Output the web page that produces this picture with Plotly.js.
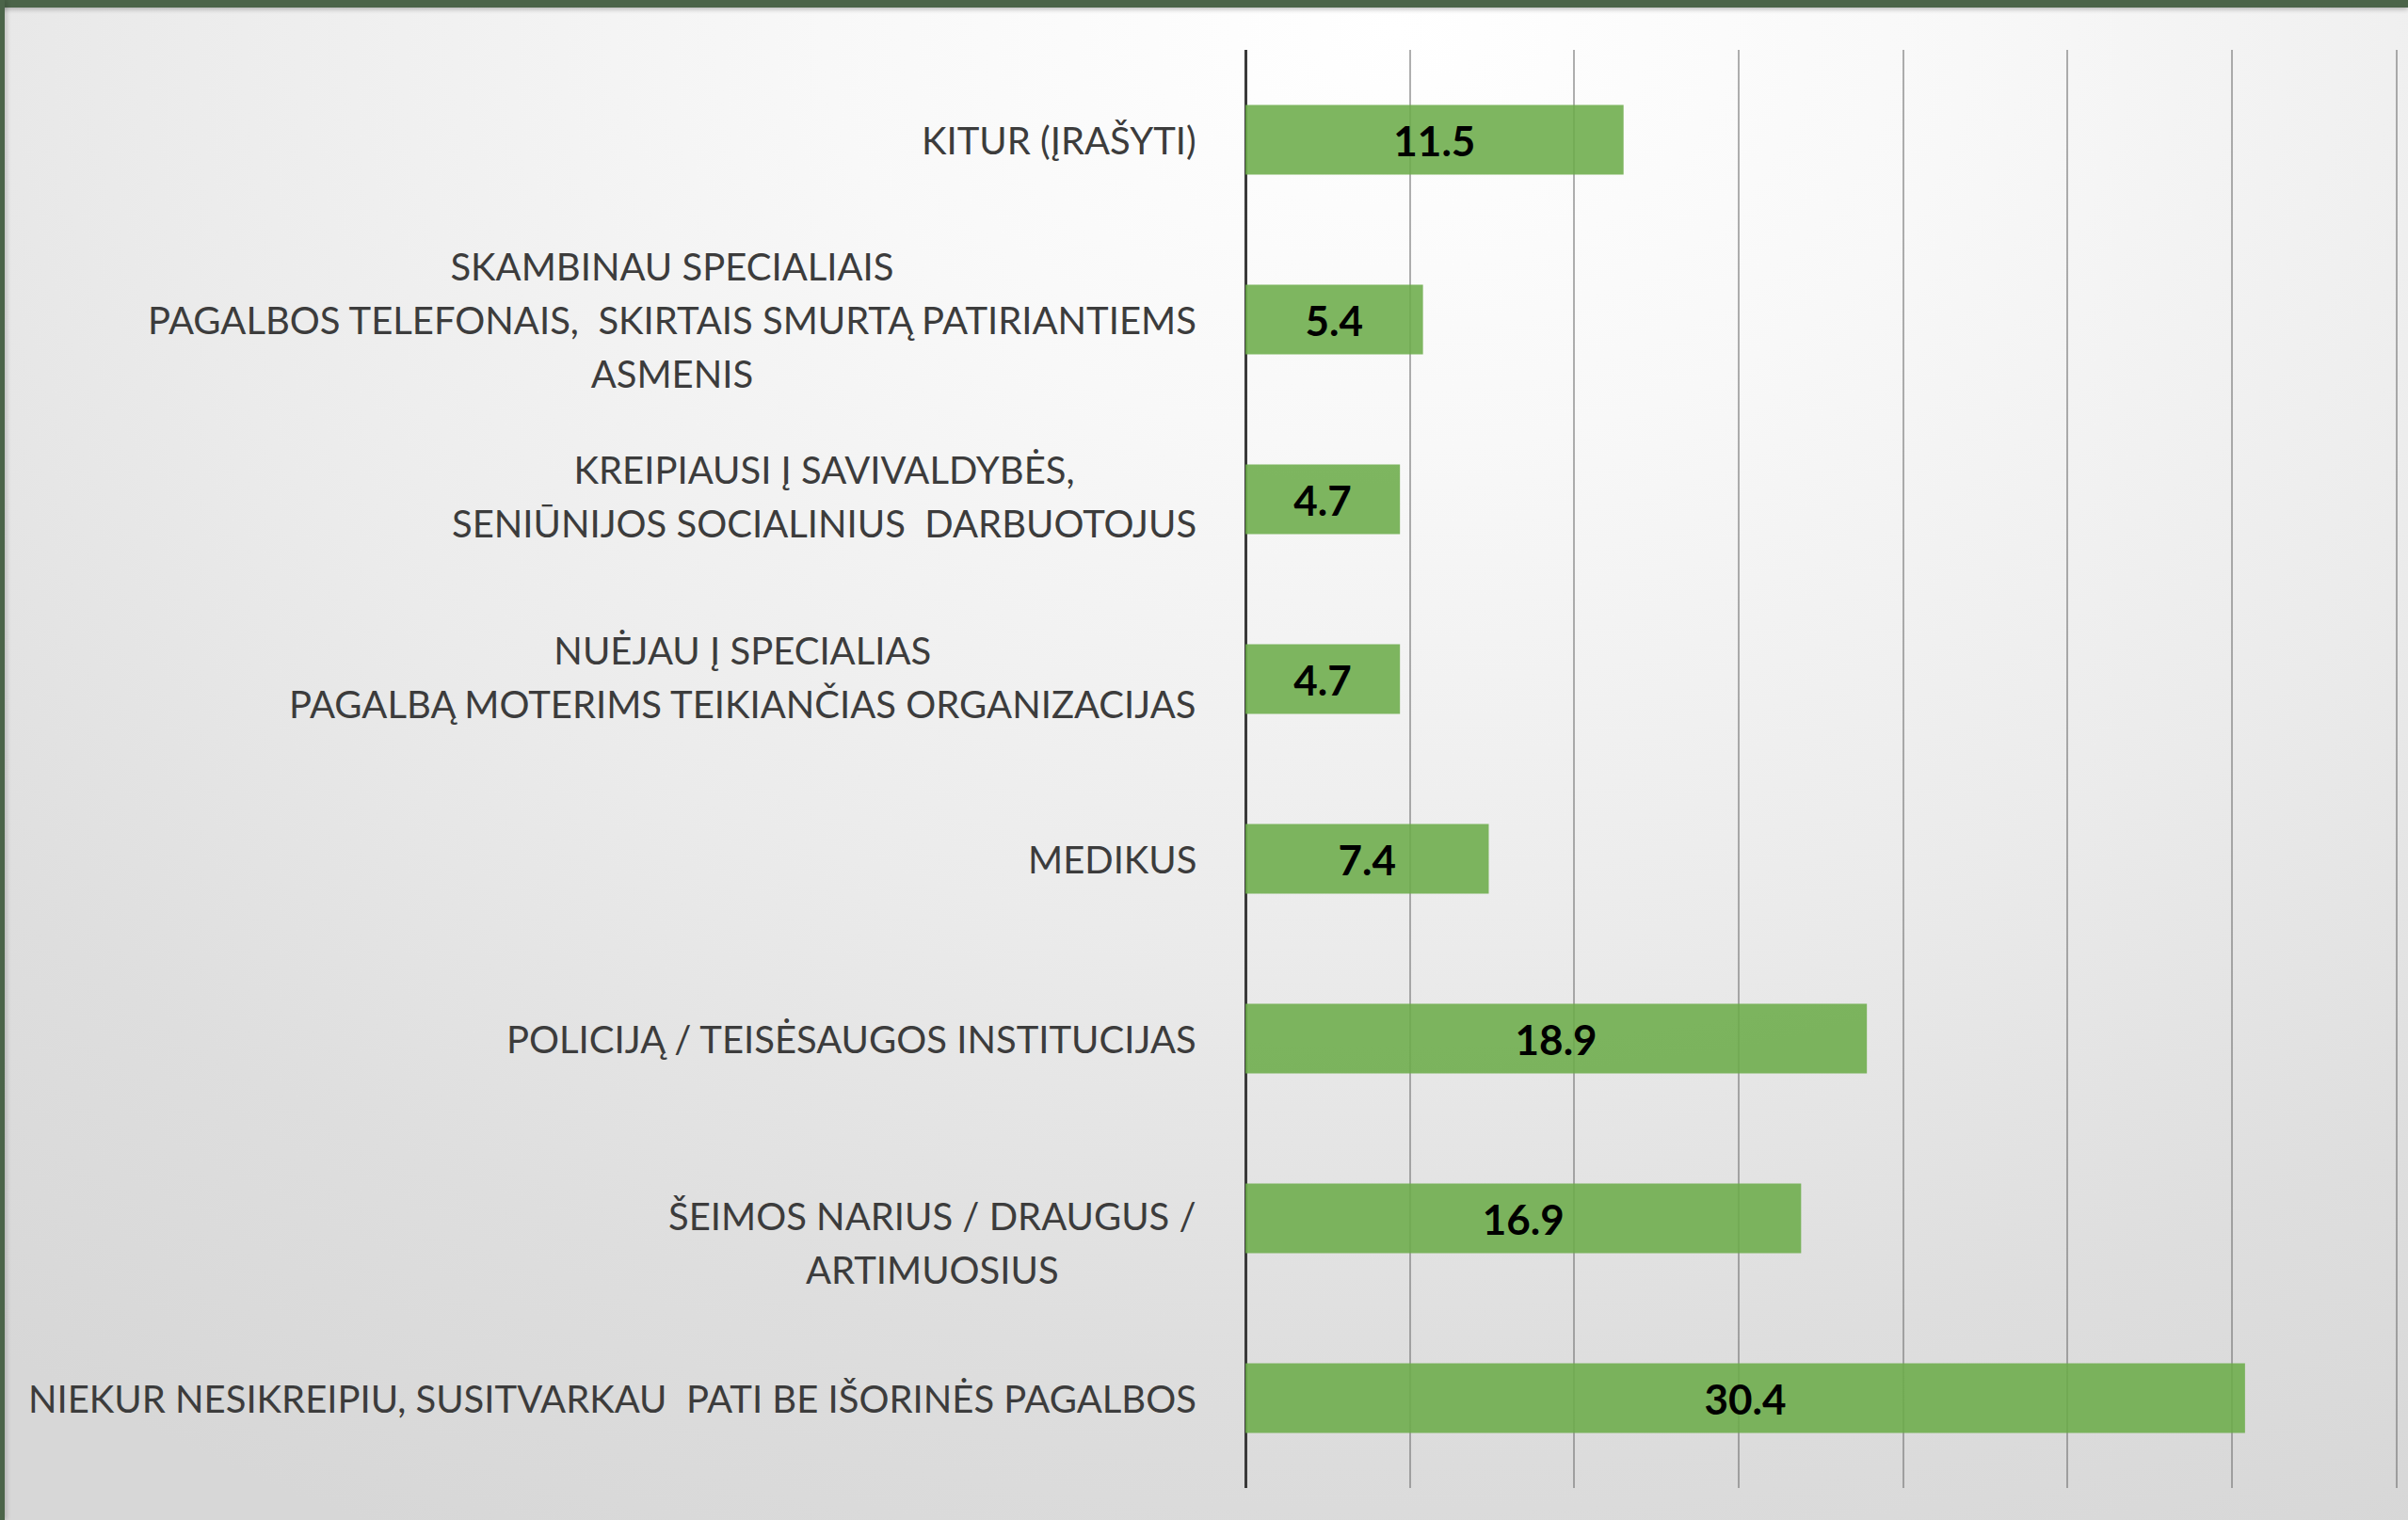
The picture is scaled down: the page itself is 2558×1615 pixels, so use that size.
<!DOCTYPE html>
<html>
<head>
<meta charset="utf-8">
<script src="https://cdn.plot.ly/plotly-3.0.1.min.js"></script>
<style>
  html, body { margin: 0; padding: 0; width: 2558px; height: 1615px; overflow: hidden; }
  body {
    background: radial-gradient(ellipse 95% 110% at 58% 2%, #ffffff 0%, #f8f8f8 25%, #ebebeb 55%, #dedede 80%, #d7d7d7 100%);
  }
  #chart { position: absolute; left: 0; top: 0; width: 2580px; height: 1615px; }
  #topbar { position: absolute; left: 0; top: 0; width: 2558px; height: 8px; background: #4b6449; box-shadow: 0 2px 5px rgba(0,0,0,0.25); z-index: 5; }
  #leftbar { position: absolute; left: 0; top: 0; width: 5px; height: 1615px; background: #4b6449; box-shadow: 2px 0 5px rgba(0,0,0,0.2); z-index: 5; }
</style>
</head>
<body>
<div id="chart"></div>
<div id="topbar"></div>
<div id="leftbar"></div>
<script>
// Categories, top to bottom (lines of each label separated by "\n")
const categories = [
  "KITUR (ĮRAŠYTI)",
  "SKAMBINAU SPECIALIAIS\nPAGALBOS TELEFONAIS,  SKIRTAIS SMURTĄ PATIRIANTIEMS\nASMENIS",
  "KREIPIAUSI Į SAVIVALDYBĖS,\nSENIŪNIJOS SOCIALINIUS  DARBUOTOJUS",
  "NUĖJAU Į SPECIALIAS\nPAGALBĄ MOTERIMS TEIKIANČIAS ORGANIZACIJAS",
  "MEDIKUS",
  "POLICIJĄ / TEISĖSAUGOS INSTITUCIJAS",
  "ŠEIMOS NARIUS / DRAUGUS /\nARTIMUOSIUS",
  "NIEKUR NESIKREIPIU, SUSITVARKAU  PATI BE IŠORINĖS PAGALBOS"
];
const values = [11.5, 5.4, 4.7, 4.7, 7.4, 18.9, 16.9, 30.4];
const xTicks = [0, 5, 10, 15, 20, 25, 30, 35];

const catKeys = categories.map((c, i) => "c" + i);

const labelSize = 40;
const lineBase = 44; // gives line spacing of 1.3*44 px
const labelYShift = [0, 0, 3, 2, 0, 0, -26, 0];

const annotations = categories.map((c, i) => ({
  xref: "paper", yref: "y",
  x: 0, y: catKeys[i],
  xanchor: "right", yanchor: "middle",
  xshift: -50, yshift: labelYShift[i],
  align: "center",
  showarrow: false,
  text: c.split("\n").map(l => '<span style="font-size:' + labelSize + 'px">' + l + '</span>').join("<br>"),
  font: { family: "Lato, 'Open Sans', sans-serif", size: lineBase, color: "#3c3c3c" }
}));

const trace = {
  type: "bar",
  orientation: "h",
  y: catKeys,
  x: values,
  text: values.map(v => v.toFixed(1)),
  texttemplate: "<b>%{text}</b>",
  textposition: "inside",
  insidetextanchor: "middle",
  textangle: 0,
  constraintext: "none",
  textfont: { family: "Lato, 'Open Sans', sans-serif", size: 44, color: "#000000" },
  marker: { color: "rgba(108,172,74,0.88)", line: { width: 0 } },
  hoverinfo: "skip"
};

const layout = {
  width: 2580, height: 1615,
  margin: { l: 1323, r: 17, t: 53, b: 34, pad: 0 },
  paper_bgcolor: "rgba(0,0,0,0)",
  plot_bgcolor: "rgba(0,0,0,0)",
  showlegend: false,
  bargap: 0.613,
  xaxis: {
    range: [0, 35.5],
    tickvals: xTicks,
    showticklabels: false,
    showgrid: true,
    gridcolor: "rgba(110,110,110,0.55)",
    gridwidth: 2,
    zeroline: true,
    zerolinecolor: "#3a3a3a",
    zerolinewidth: 3,
    showline: false,
    ticks: "",
    fixedrange: true
  },
  yaxis: {
    type: "category",
    categoryorder: "array",
    categoryarray: catKeys,
    autorange: "reversed",
    showticklabels: false,
    showgrid: false,
    zeroline: false,
    showline: false,
    ticks: "",
    fixedrange: true
  },
  annotations: annotations
};

Plotly.newPlot("chart", [trace], layout, { displayModeBar: false, staticPlot: true });
</script>
</body>
</html>
